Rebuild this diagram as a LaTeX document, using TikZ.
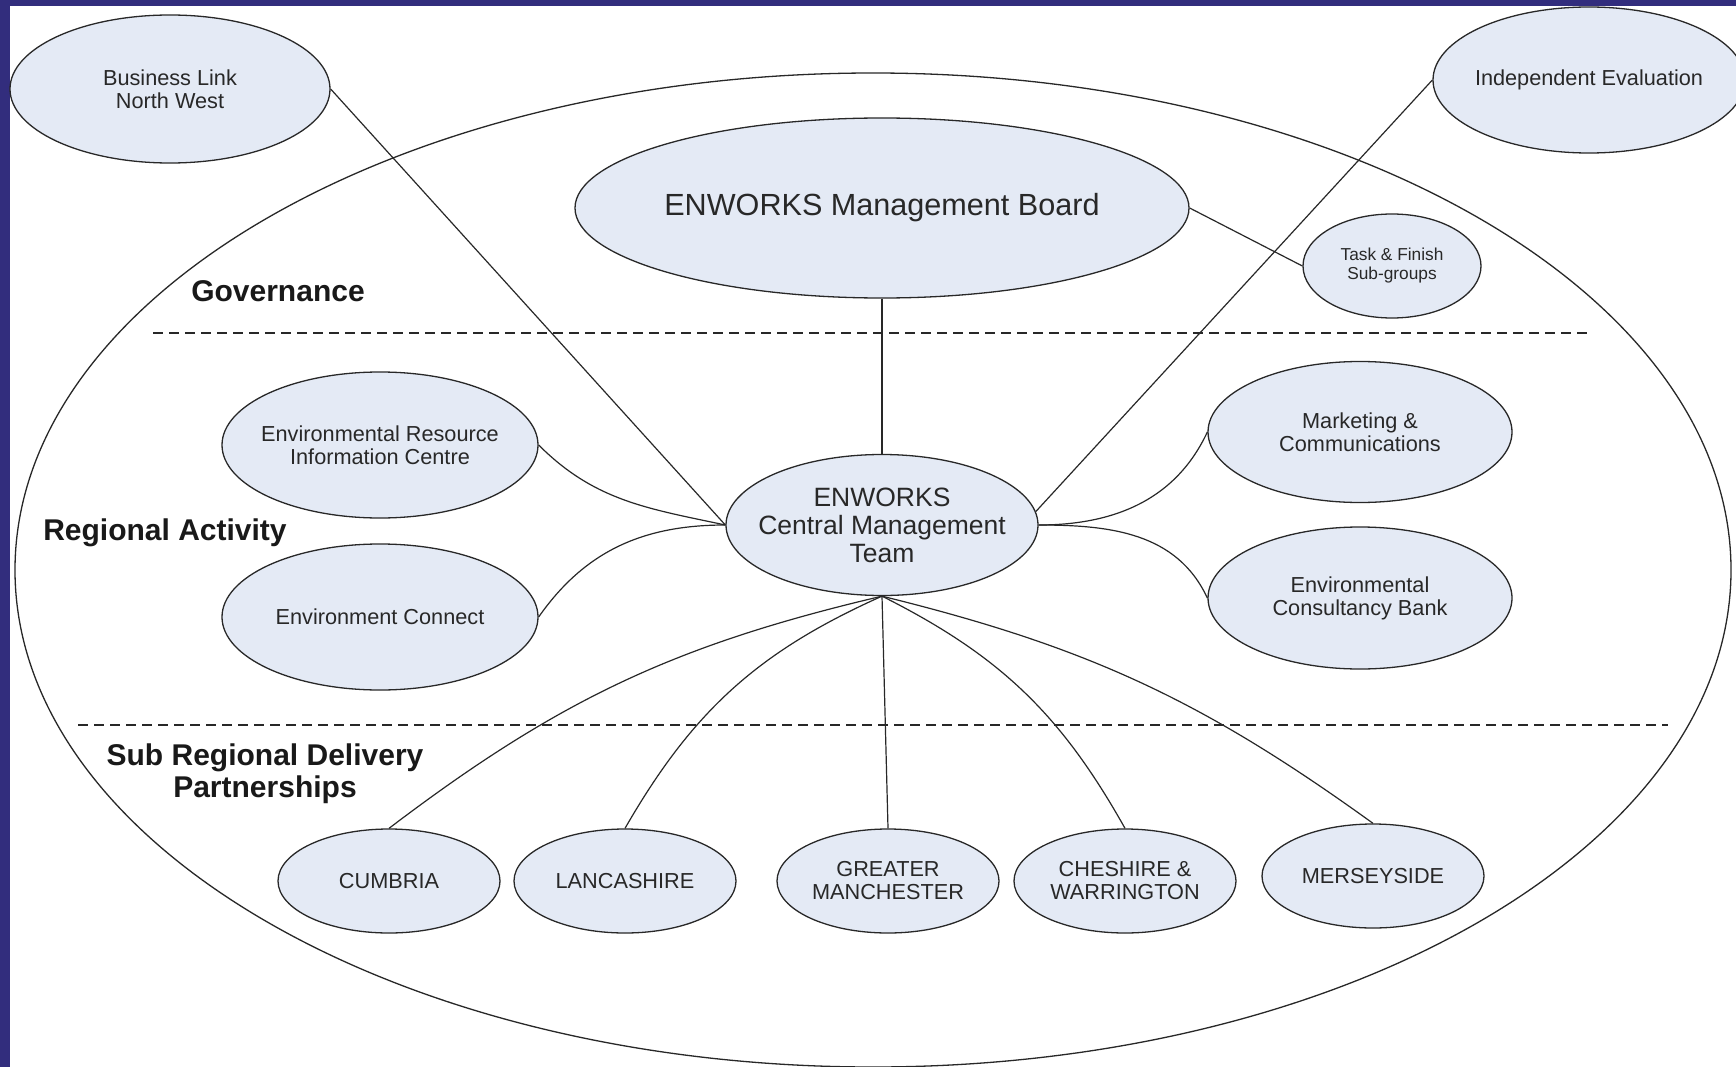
\documentclass[tikz,border=0pt]{standalone}
\usepackage{fontspec}
\setmainfont{Liberation Sans}
\usetikzlibrary{shapes.geometric}
\definecolor{bubfill}{RGB}{228,234,245}
\definecolor{frameblue}{RGB}{50,45,125}
\definecolor{inkgray}{RGB}{40,40,40}
\tikzset{
  bub/.style={ellipse, draw=inkgray, fill=bubfill, line width=1.3pt, inner sep=0pt},
  bubtext/.style={align=center, text=inkgray, inner sep=0pt, font=\fontsize{21.7}{23}\selectfont},
  lab/.style={font=\fontsize{30}{32}\selectfont\bfseries, align=center, text=black!90},
  conn/.style={line width=1.2pt, draw=inkgray},
  sepline/.style={line width=1.3pt, draw=inkgray, dash pattern=on 10pt off 6pt}
}
\begin{document}
\begin{tikzpicture}[x=1pt,y=1pt]
\useasboundingbox (0,0) rectangle (1736,-1067);
\clip (0,0) rectangle (1736,-1067);
\fill[white] (0,0) rectangle (1736,-1067);
\fill[frameblue] (0,0) rectangle (1736,-6);
\fill[frameblue] (0,0) rectangle (10,-1067);

% outer region ellipse
\node[ellipse, draw=inkgray, line width=1.3pt, minimum width=1716pt, minimum height=994pt, inner sep=0pt] (outer) at (873,-570) {};

% separators
\coordinate (s1a) at (153,-333); \coordinate (s1b) at (1591,-333);
\coordinate (s2a) at (78,-725);  \coordinate (s2b) at (1668,-725);
\draw[sepline] (s1a) -- (s1b);
\draw[sepline] (s2a) -- (s2b);

% section labels
\node[lab] (gov) at (278,-291) {Governance};
\node[lab] (reg) at (165,-533) {Regional Activity};
\node[lab] (sub) at (265,-774) {Sub Regional Delivery\\Partnerships};

% bubbles
\node[bub, minimum width=320pt, minimum height=148pt, label={[bubtext]center:Business Link\\North West}] (bl) at (170,-89) {};
\node[bub, minimum width=312pt, minimum height=146pt, label={[bubtext]center:Independent Evaluation}] (ie) at (1589,-80) {};
\node[bub, minimum width=614pt, minimum height=180pt, label={[bubtext, font=\fontsize{30.6}{32}\selectfont]center:ENWORKS Management Board}] (mb) at (882,-208) {};
\node[bub, minimum width=178pt, minimum height=104pt, label={[bubtext, font=\fontsize{17.3}{19}\selectfont]center:Task \& Finish\\Sub-groups}] (tf) at (1392,-266) {};
\node[bub, minimum width=316pt, minimum height=146pt, label={[bubtext]center:Environmental Resource\\Information Centre}] (eric) at (380,-445) {};
\node[bub, minimum width=316pt, minimum height=146pt, label={[bubtext]center:Environment Connect}] (ec) at (380,-617) {};
\node[bub, minimum width=312pt, minimum height=141pt, label={[bubtext, font=\fontsize{26.5}{28}\selectfont]center:ENWORKS\\Central Management\\Team}] (cmt) at (882,-525) {};
\node[bub, minimum width=304pt, minimum height=141pt, label={[bubtext]center:Marketing \&\\Communications}] (mc) at (1360,-432) {};
\node[bub, minimum width=304pt, minimum height=142pt, label={[bubtext]center:Environmental\\Consultancy Bank}] (ecb) at (1360,-598) {};
\node[bub, minimum width=222pt, minimum height=104pt, label={[bubtext]center:CUMBRIA}] (cum) at (389,-881) {};
\node[bub, minimum width=222pt, minimum height=104pt, label={[bubtext]center:LANCASHIRE}] (lan) at (625,-881) {};
\node[bub, minimum width=222pt, minimum height=104pt, label={[bubtext]center:GREATER\\MANCHESTER}] (gm) at (888,-881) {};
\node[bub, minimum width=222pt, minimum height=104pt, label={[bubtext]center:CHESHIRE \&\\WARRINGTON}] (ches) at (1125,-881) {};
\node[bub, minimum width=222pt, minimum height=104pt, label={[bubtext]center:MERSEYSIDE}] (mer) at (1373,-876) {};

% connectors
\draw[conn] (bl.east) -- (cmt.west);
\draw[conn] (ie.west) -- (cmt.5);
\draw[conn] (mb.south) -- (cmt.north);
\draw[conn] (mb.east) -- (tf.west);
\draw[conn] (eric.east) to[out=-45,in=168] (cmt.west);
\draw[conn] (ec.east) to[out=55,in=180] (cmt.west);
\draw[conn] (cmt.east) to[out=0,in=-115] (mc.west);
\draw[conn] (cmt.east) to[out=0,in=115] (ecb.west);
\draw[conn] (cmt.south) to[bend right=12] (cum.north);
\draw[conn] (cmt.south) to[bend right=18] (lan.north);
\draw[conn] (cmt.south) -- (gm.north);
\draw[conn] (cmt.south) to[bend left=17] (ches.north);
\draw[conn] (cmt.south) to[bend left=11] (mer.north);
\end{tikzpicture}
\end{document}
